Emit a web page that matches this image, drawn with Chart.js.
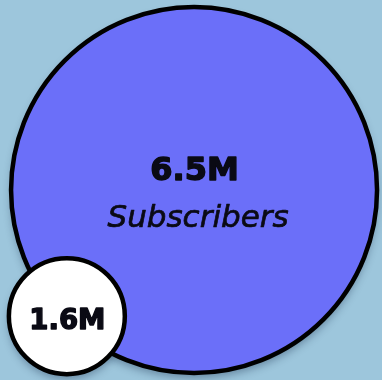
<!DOCTYPE html>
<html>
<head>
<meta charset="utf-8">
<script src="https://cdn.jsdelivr.net/npm/chart.js@4.4.1/dist/chart.umd.min.js"></script>
<style>
  html, body { margin: 0; padding: 0; background: #9dc6dc; }
  #wrap { width: 382px; height: 380px; position: relative; }
</style>
</head>
<body>
<div id="wrap"><canvas id="c" width="382" height="380"></canvas></div>
<script>
// Subscriber counts, in millions
const labels = ['Subscribers', ''];
const subscribers = [6.5, 1.6];
const captions = ['Subscribers', ''];

// Placement of each bubble on a 0–100 grid (packed layout)
const placeX = [50.8, 17.5];
const placeY = [50.0, 83.2];

const fills = ['#6b6ff9', '#ffffff'];
const maxRadius = 183;     // px for the largest value
const radiusExponent = 0.82;

const vmax = Math.max(...subscribers);
const bubbleRadius = v => maxRadius * Math.pow(v / vmax, radiusExponent);

const points = subscribers.map((v, i) => ({ x: placeX[i], y: placeY[i], r: bubbleRadius(v) }));

// Bubbles may run up to the canvas edge: don't shrink the chart area for them
Chart.BubbleController.prototype.getMaxOverflow = function () { return 0; };

// Soft drop shadow under each bubble, painted before the bubbles themselves
const shadowPlugin = {
  id: 'softShadow',
  beforeDatasetsDraw(chart) {
    const ctx = chart.ctx;
    const meta = chart.getDatasetMeta(0);
    ctx.save();
    ctx.shadowColor = 'rgba(20, 40, 70, 0.4)';
    ctx.shadowBlur = 8;
    ctx.shadowOffsetY = 5;
    meta.data.forEach((el, i) => {
      ctx.beginPath();
      ctx.arc(el.x, el.y, el.options.radius, 0, Math.PI * 2);
      ctx.fillStyle = fills[i];
      ctx.fill();
    });
    ctx.restore();
  }
};

const labelPlugin = {
  id: 'bubbleLabels',
  afterDatasetsDraw(chart) {
    const ctx = chart.ctx;
    const meta = chart.getDatasetMeta(0);
    ctx.save();
    ctx.fillStyle = '#0a0a14';
    ctx.strokeStyle = '#0a0a14';
    ctx.lineJoin = 'round';
    ctx.textAlign = 'center';
    ctx.textBaseline = 'alphabetic';
    const heavy = (txt, x, y, w) => {
      ctx.lineWidth = w;
      ctx.strokeText(txt, x, y);
      ctx.fillText(txt, x, y);
    };
    meta.data.forEach((el, i) => {
      const txt = subscribers[i].toFixed(1) + 'M';
      if (captions[i]) {
        ctx.font = 'bold 32px "DejaVu Sans"';
        heavy(txt, el.x + 0.5, el.y - 10, 1.4);
        ctx.font = 'oblique 31px "DejaVu Sans"';
        heavy(captions[i], el.x + 4, el.y + 37, 0.7);
      } else {
        ctx.font = 'bold 27.5px "DejaVu Sans"';
        heavy(txt, el.x + 0.5, el.y + 13, 1.4);
      }
    });
    ctx.restore();
  }
};

new Chart(document.getElementById('c'), {
  type: 'bubble',
  data: {
    labels,
    datasets: [{
      data: points,
      backgroundColor: fills,
      borderColor: '#000000',
      borderWidth: 4.5,
      hoverBorderWidth: 4.5,
      clip: false
    }]
  },
  options: {
    responsive: false,
    animation: false,
    events: [],
    layout: { padding: 0 },
    plugins: { legend: { display: false }, tooltip: { enabled: false } },
    scales: {
      x: { type: 'linear', min: 0, max: 100, display: false },
      y: { type: 'linear', min: 0, max: 100, reverse: true, display: false }
    }
  },
  plugins: [shadowPlugin, labelPlugin]
});
</script>
</body>
</html>
